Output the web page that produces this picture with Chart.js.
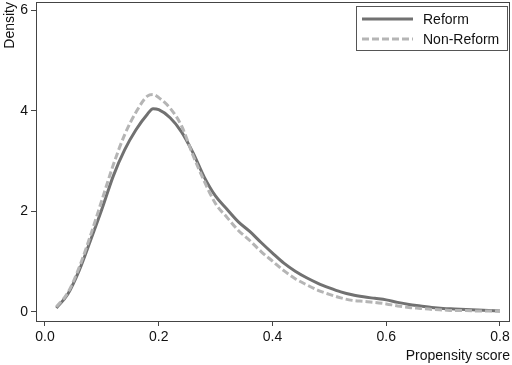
<!DOCTYPE html>
<html>
<head>
<meta charset="utf-8">
<script src="https://cdn.jsdelivr.net/npm/chart.js@4.4.1/dist/chart.umd.min.js"></script>
<style>
    html, body { margin: 0; padding: 0; background: #fff; }
    #wrap { width: 512px; height: 365px; position: relative; }
</style>
</head>
<body>
<div id="wrap"><canvas id="density-chart"></canvas></div>
<script>
// propensity score grid (x) and kernel density estimates
var score_values = [0.02, 0.04, 0.06, 0.08, 0.10, 0.12, 0.14, 0.16, 0.18, 0.19, 0.20,
    0.22, 0.24, 0.26, 0.28, 0.30, 0.32, 0.34, 0.36, 0.38, 0.40,
    0.42, 0.44, 0.46, 0.48, 0.50, 0.52, 0.54, 0.56, 0.58, 0.60,
    0.62, 0.64, 0.66, 0.68, 0.70, 0.72, 0.74, 0.76, 0.78, 0.80];

var reform_values = [0.08, 0.35, 0.82, 1.42, 2.04, 2.70, 3.22, 3.62, 3.93, 4.04, 4.02,
    3.86, 3.58, 3.17, 2.68, 2.30, 2.04, 1.79, 1.60, 1.38, 1.17,
    0.97, 0.81, 0.68, 0.57, 0.48, 0.40, 0.34, 0.30, 0.27, 0.24,
    0.19, 0.15, 0.12, 0.09, 0.07, 0.06, 0.05, 0.04, 0.03, 0.02];

var non_reform_values = [0.10, 0.38, 0.88, 1.52, 2.22, 2.92, 3.52, 3.97, 4.29, 4.32, 4.26,
    4.05, 3.70, 3.12, 2.60, 2.15, 1.88, 1.62, 1.42, 1.20, 1.01,
    0.82, 0.66, 0.54, 0.43, 0.35, 0.28, 0.23, 0.21, 0.19, 0.16,
    0.12, 0.09, 0.07, 0.05, 0.04, 0.03, 0.03, 0.02, 0.02, 0.02];

var x_ticks = [0, 0.2, 0.4, 0.6, 0.8];
var x_tick_labels = ['0.0', '0.2', '0.4', '0.6', '0.8'];
var y_ticks = [0, 2, 4, 6];
var y_tick_labels = ['0', '2', '4', '6'];

var FONT = '"Liberation Sans", Arial, Helvetica, sans-serif';
var AXIS_COLOR = '#444444';

function toPoints(xs, ys) {
    var pts = [];
    for (var i = 0; i < xs.length; i++) {
        pts.push({ x: xs[i], y: ys[i] });
    }
    return pts;
}

// box round the plot area
var frameBox = {
    id: 'frameBox',
    afterDraw: function (chart) {
        var a = chart.chartArea;
        var ctx = chart.ctx;
        ctx.save();
        ctx.strokeStyle = AXIS_COLOR;
        ctx.lineWidth = 1;
        ctx.strokeRect(a.left + 0.5, a.top + 0.5, a.right - a.left - 1, a.bottom - a.top);
        ctx.restore();
    }
};

// Stata style legend in a box, top right of the plot area
var legendBox = {
    id: 'legendBox',
    afterDraw: function (chart) {
        var a = chart.chartArea;
        var ctx = chart.ctx;
        var bx = a.right - 154, by = a.top + 4, bw = 151, bh = 44;
        ctx.save();
        ctx.strokeStyle = '#555555';
        ctx.lineWidth = 1;
        ctx.strokeRect(bx + 0.5, by + 0.5, bw, bh);
        ctx.font = '14px ' + FONT;
        ctx.textBaseline = 'middle';
        ctx.fillStyle = '#111111';
        chart.data.datasets.forEach(function (ds, i) {
            var ly = by + 13 + i * 20;
            ctx.beginPath();
            ctx.strokeStyle = ds.borderColor;
            ctx.lineWidth = ds.borderWidth;
            ctx.setLineDash(ds.borderDash || []);
            ctx.moveTo(bx + 6, ly);
            ctx.lineTo(bx + 57, ly);
            ctx.stroke();
            ctx.setLineDash([]);
            ctx.fillText(ds.label, bx + 67, ly + 1);
        });
        ctx.restore();
    }
};

var ctx = document.getElementById('density-chart');
var DensityChart = new Chart(ctx, {
    type: 'line',
    data: {
        datasets: [{
            label: 'Reform',
            data: toPoints(score_values, reform_values),
            borderColor: '#717171',
            borderWidth: 3,
            pointRadius: 0,
            cubicInterpolationMode: 'monotone',
            order: 2
        }, {
            label: 'Non-Reform',
            data: toPoints(score_values, non_reform_values),
            borderColor: '#b5b5b5',
            borderWidth: 3,
            borderDash: [7, 3],
            pointRadius: 0,
            cubicInterpolationMode: 'monotone',
            order: 1
        }]
    },
    plugins: [frameBox, legendBox],
    options: {
        responsive: true,
        maintainAspectRatio: false,
        animation: false,
        layout: {
            padding: { top: 2, right: 2, left: 0, bottom: 0 }
        },
        plugins: {
            legend: false,
            tooltip: { enabled: false }
        },
        scales: {
            x: {
                type: 'linear',
                min: -0.0158,
                max: 0.8176,
                afterFit: function (scale) {
                    scale.height = 44;
                    scale.paddingLeft = 0;
                    scale.paddingRight = 0;
                },
                afterBuildTicks: function (scale) {
                    scale.ticks = x_ticks.map(function (v) { return { value: v }; });
                },
                border: { display: false },
                grid: {
                    drawOnChartArea: false,
                    drawTicks: true,
                    tickLength: 5,
                    tickColor: AXIS_COLOR
                },
                ticks: {
                    padding: 3,
                    color: '#111111',
                    maxRotation: 0,
                    font: { family: FONT, size: 14 },
                    callback: function (value) {
                        var i = x_ticks.indexOf(value);
                        return i >= 0 ? x_tick_labels[i] : '';
                    }
                },
                title: {
                    display: true,
                    text: 'Propensity score',
                    align: 'end',
                    color: '#111111',
                    font: { family: FONT, size: 14 },
                    padding: { top: 0, bottom: 0 }
                }
            },
            y: {
                min: -0.18,
                max: 6.16,
                afterFit: function (scale) {
                    scale.width = 36;
                    scale.paddingTop = 0;
                    scale.paddingBottom = 0;
                },
                afterBuildTicks: function (scale) {
                    scale.ticks = y_ticks.map(function (v) { return { value: v }; });
                },
                border: { display: false },
                grid: {
                    drawOnChartArea: false,
                    drawTicks: true,
                    tickLength: 5,
                    tickColor: AXIS_COLOR
                },
                ticks: {
                    padding: 3,
                    color: '#111111',
                    font: { family: FONT, size: 14 },
                    callback: function (value) {
                        var i = y_ticks.indexOf(value);
                        return i >= 0 ? y_tick_labels[i] : '';
                    }
                },
                title: {
                    display: true,
                    text: 'Density',
                    align: 'end',
                    color: '#111111',
                    font: { family: FONT, size: 14 },
                    padding: { top: 2, bottom: 0 }
                }
            }
        }
    }
});
</script>
</body>
</html>
